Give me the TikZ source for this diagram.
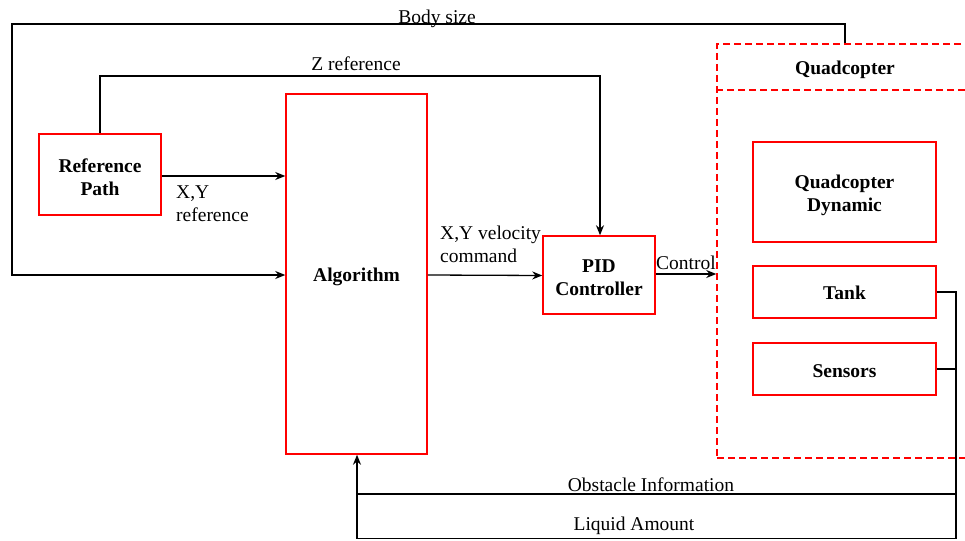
\documentclass[tikz,border=0pt]{standalone}
\usepackage{fontspec}
\setmainfont{Liberation Serif}
\usetikzlibrary{arrows.meta,calc}
\begin{document}
\begin{tikzpicture}[x=1pt,y=-1pt,
  font=\fontsize{19.5}{23}\selectfont,
  redbox/.style={draw=red,line width=1.5pt,inner sep=0pt,align=center,font=\fontsize{19.5}{23}\selectfont\bfseries},
  dashbox/.style={draw=red,line width=1.5pt,dash pattern=on 7pt off 4pt,inner sep=0pt},
  wire/.style={draw=black,line width=1.3pt},
  arr/.style={wire,-{Stealth[length=10pt,width=8pt]}},
  lbl/.style={inner sep=0pt,align=left}]
\useasboundingbox (0,0) rectangle (965,540);
\fill[white] (0,0) rectangle (965,540);
% boxes
\node[redbox,minimum width=122pt,minimum height=81pt] (ref) at (100,174.5) {};
\node[redbox,minimum width=141pt,minimum height=360pt] (alg) at (356.5,274) {};
\node[redbox,minimum width=112pt,minimum height=78pt] (pid) at (599,275) {};
\node[dashbox,minimum width=256pt,minimum height=414pt] (quad) at (845,251) {};
\draw[dashbox] (quad.west |- 0,90) -- (quad.east |- 0,90);
\node[redbox,minimum width=183pt,minimum height=100pt] (dyn) at (844.5,192) {};
\node[redbox,minimum width=183pt,minimum height=52pt] (tank) at (844.5,292) {};
\node[redbox,minimum width=183pt,minimum height=52pt] (sens) at (844.5,369) {};
% box texts
\begin{scope}[every node/.style={inner sep=0pt,align=center,font=\fontsize{19.5}{23}\selectfont\bfseries}]
\node (tref) at (100,177) {Reference\\Path};
\node (talg) at (356.5,277) {Algorithm};
\node (tpid) at (599,278) {PID\\Controller};
\node (qlab) at (845,70) {Quadcopter};
\node (tdyn) at (844.5,195) {Quadcopter\\Dynamic};
\node (ttank) at (844.5,293) {Tank};
\node (tsens) at (844.5,371) {Sensors};
\end{scope}
% junction coordinates
\coordinate (bsR) at (845,24);
\coordinate (bsL) at (12,24);
\coordinate (bsD) at (12,275);
\coordinate (zL) at (100,76);
\coordinate (zR) at (600,76);
\coordinate (rt) at (956,292);
\coordinate (rs) at (956,369);
\coordinate (ro) at (956,494);
\coordinate (rl) at (956,538.5);
\coordinate (lo) at (357,494);
\coordinate (ll) at (357,538.5);
% connectors
\draw[arr] (quad.north -| bsR) -- (bsR) -- (bsL) -- (bsD) -- (alg.west |- bsD);
\draw[arr] (ref.north) -- (zL) -- (zR) -- (pid.north -| zR);
\draw[arr] (ref.east |- 0,176) -- (alg.west |- 0,176);
\draw[arr] (alg.east |- 0,275) -- (pid.west |- 0,275.5);
\draw[arr] (pid.east |- 0,274) -- (quad.west |- 0,274);
\draw[wire] (tank.east) -- (rt) -- (rl) -- (ll);
\draw[wire] (sens.east) -- (rs);
\draw[wire] (ro) -- (lo);
\draw[arr] (ll) -- (alg.south -| ll);
% labels
\node[lbl] (lbs) at (437,19) {Body size};
\node[lbl] (lz) at (356,64) {Z reference};
\node[lbl,anchor=north west] (lxy) at (176,186) {X,Y\\reference};
\node[lbl,anchor=north west] (lvel) at (440,226) {X,Y velocity\\command};
\node[lbl] (lctl) at (686,263) {Control};
\node[lbl] (lobs) at (651,485) {Obstacle Information};
\node[lbl] (lliq) at (634,526) {Liquid Amount};
\end{tikzpicture}
\end{document}
